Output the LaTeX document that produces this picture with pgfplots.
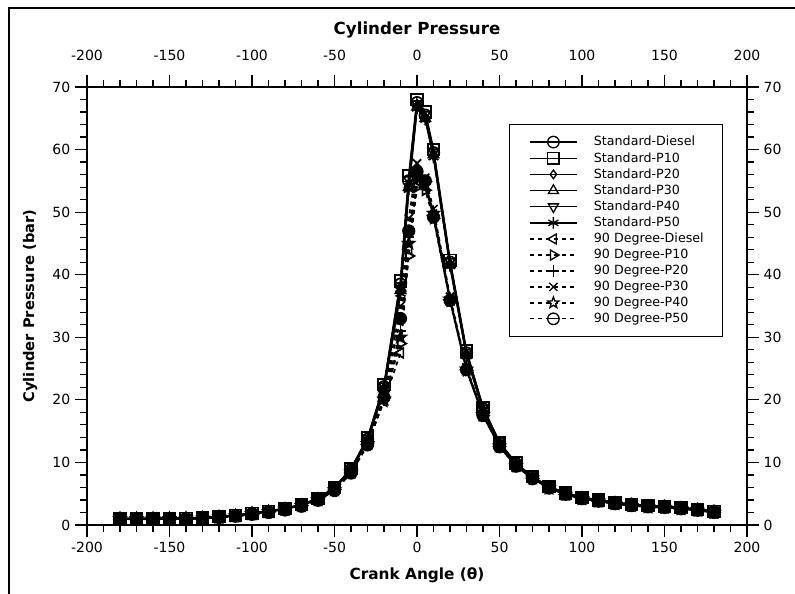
\documentclass[border=0pt]{standalone}
\usepackage{fontspec}
\setmainfont{DejaVu Sans}
\usepackage{pgfplots}
\pgfplotsset{compat=1.18}
\usepackage{pgfplotstable}
\usetikzlibrary{plotmarks}

\pgfdeclareplotmark{ostar}{%
  \pgfpathmoveto{\pgfpointpolar{90}{\pgfplotmarksize}}%
  \pgfpathlineto{\pgfpointpolar{126}{0.42\pgfplotmarksize}}%
  \pgfpathlineto{\pgfpointpolar{162}{\pgfplotmarksize}}%
  \pgfpathlineto{\pgfpointpolar{198}{0.42\pgfplotmarksize}}%
  \pgfpathlineto{\pgfpointpolar{234}{\pgfplotmarksize}}%
  \pgfpathlineto{\pgfpointpolar{270}{0.42\pgfplotmarksize}}%
  \pgfpathlineto{\pgfpointpolar{306}{\pgfplotmarksize}}%
  \pgfpathlineto{\pgfpointpolar{342}{0.42\pgfplotmarksize}}%
  \pgfpathlineto{\pgfpointpolar{18}{\pgfplotmarksize}}%
  \pgfpathlineto{\pgfpointpolar{54}{0.42\pgfplotmarksize}}%
  \pgfpathclose
  \pgfusepathqfillstroke}
\pgfdeclareplotmark{ominus}{%
  \pgfpathcircle{\pgfpointorigin}{\pgfplotmarksize}%
  \pgfusepathqfillstroke
  \pgfpathmoveto{\pgfqpoint{-\pgfplotmarksize}{0pt}}%
  \pgfpathlineto{\pgfqpoint{\pgfplotmarksize}{0pt}}%
  \pgfusepathqstroke}

\pgfplotstableread{
x d p10 p20 p30 p40 p50
-180 1.00 1.00 0.95 1.00 1.05 1.00
-170 1.00 1.00 0.95 1.00 1.05 1.00
-160 1.00 1.05 1.00 1.00 1.05 1.00
-150 1.05 1.05 1.00 1.05 1.05 1.05
-140 1.05 1.10 1.05 1.05 1.10 1.05
-130 1.10 1.15 1.10 1.10 1.15 1.10
-120 1.30 1.35 1.30 1.30 1.35 1.30
-110 1.50 1.55 1.50 1.50 1.55 1.50
-100 1.85 1.90 1.85 1.85 1.90 1.80
-90 2.15 2.20 2.15 2.15 2.20 2.10
-80 2.60 2.65 2.60 2.55 2.65 2.55
-70 3.20 3.25 3.20 3.15 3.25 3.15
-60 4.20 4.25 4.20 4.15 4.25 4.10
-50 5.90 6.00 5.90 5.85 5.95 5.80
-40 8.90 9.00 8.85 8.80 8.95 8.75
-30 13.7 13.9 13.6 13.5 13.8 13.4
-20 22.1 22.4 21.9 21.8 22.2 21.6
-10 38.5 39.0 38.0 37.5 38.2 37.0
-5 55.0 55.8 54.5 54.0 55.2 53.6
0 67.5 68.0 67.0 66.8 67.3 66.6
5 65.5 66.0 65.2 65.0 65.6 64.8
10 59.5 60.0 59.0 59.2 59.6 58.8
20 42.0 42.3 41.8 41.6 42.1 41.4
30 27.5 27.8 27.3 27.2 27.6 27.0
40 18.6 18.8 18.5 18.4 18.7 18.3
50 13.1 13.2 13.0 13.0 13.1 12.9
60 9.8 9.9 9.8 9.7 9.8 9.7
70 7.7 7.7 7.6 7.6 7.7 7.6
80 6.1 6.1 6.0 6.0 6.1 6.0
90 5.1 5.1 5.0 5.0 5.1 5.0
100 4.4 4.4 4.35 4.3 4.4 4.3
110 4.0 4.0 3.95 3.9 4.0 3.9
120 3.6 3.6 3.55 3.5 3.6 3.5
130 3.3 3.3 3.25 3.2 3.3 3.2
140 3.1 3.1 3.05 3.0 3.1 3.0
150 3.0 3.0 2.95 2.9 3.0 2.9
160 2.8 2.8 2.75 2.7 2.8 2.7
170 2.5 2.5 2.45 2.4 2.5 2.4
180 2.2 2.2 2.15 2.1 2.2 2.1
}\stdtab

\pgfplotstableread{
x d p10 p20 p30 p40 p50
-180 0.95 0.95 0.90 0.95 1.00 0.95
-170 0.95 0.95 0.90 0.95 1.00 0.95
-160 0.95 1.00 0.95 0.95 1.00 0.95
-150 1.00 1.00 0.95 1.00 1.00 1.00
-140 1.00 1.05 1.00 1.00 1.05 1.00
-130 1.05 1.10 1.05 1.05 1.10 1.05
-120 1.20 1.25 1.20 1.20 1.25 1.20
-110 1.40 1.45 1.40 1.40 1.45 1.40
-100 1.75 1.80 1.75 1.75 1.80 1.70
-90 2.05 2.10 2.05 2.05 2.10 2.00
-80 2.45 2.50 2.45 2.40 2.50 2.40
-70 3.05 3.10 3.05 3.00 3.10 3.00
-60 4.00 4.05 4.00 3.95 4.05 3.95
-50 5.60 5.65 5.55 5.50 5.60 5.50
-40 8.40 8.50 8.35 8.30 8.45 8.30
-30 12.9 13.1 12.9 12.8 13.0 12.8
-20 19.8 20.3 20.0 20.6 20.1 20.4
-10 27.5 29.0 31.0 35.0 30.0 33.0
-5 44.0 43.0 46.0 49.0 45.0 47.0
0 55.0 54.0 56.0 57.8 55.5 56.5
5 54.0 53.5 54.5 55.5 54.5 55.0
10 49.5 49.0 50.0 50.5 49.8 49.2
20 36.0 35.8 36.2 36.5 36.1 35.9
30 24.8 24.7 25.0 25.2 24.9 24.8
40 17.6 17.5 17.7 17.8 17.6 17.5
50 12.6 12.5 12.7 12.8 12.6 12.5
60 9.5 9.4 9.5 9.6 9.5 9.4
70 7.5 7.4 7.5 7.5 7.5 7.4
80 5.9 5.9 5.9 6.0 5.9 5.9
90 4.9 4.9 4.9 5.0 4.9 4.9
100 4.2 4.2 4.2 4.3 4.2 4.2
110 3.8 3.8 3.8 3.9 3.8 3.8
120 3.4 3.4 3.4 3.5 3.4 3.4
130 3.1 3.1 3.1 3.2 3.1 3.1
140 2.9 2.9 2.9 3.0 2.9 2.9
150 2.8 2.8 2.8 2.9 2.8 2.8
160 2.6 2.6 2.6 2.7 2.6 2.6
170 2.35 2.35 2.35 2.4 2.35 2.35
180 2.0 2.0 2.0 2.1 2.0 2.0
}\ninetab

\pgfplotsset{
  common/.style={
    scale only axis, width=495pt, height=328.5pt,
    xmin=-200, xmax=200, ymin=0, ymax=70,
    xtick={-200,-150,...,200}, ytick={0,10,...,70},
    minor x tick num=4, minor y tick num=4,
    tick align=outside, major tick length=9pt, minor tick length=5pt,
    xtick pos=both, ytick pos=both,
    axis line style={line width=1pt},
    every tick/.style={black, line width=0.9pt},
    tick label style={font=\fontsize{10.5}{12}\selectfont},
    /pgf/number format/assume math mode=true,
  },
}

\begin{document}
\begin{tikzpicture}
\begin{axis}[common,
  xticklabel pos=lower, yticklabel pos=left,
  xlabel={\bfseries Crank Angle (θ)},
  ylabel={\bfseries Cylinder Pressure (bar)},
  xlabel style={at={(rel axis cs:0.5,-0.114)}, anchor=center, font=\fontsize{11.5}{13}\selectfont},
  ylabel style={at={(rel axis cs:-0.086,0.5)}, anchor=center, rotate=0, font=\fontsize{11}{13}\selectfont},
  every axis title shift=0pt,
  title={\bfseries Cylinder Pressure},
  title style={at={(rel axis cs:0.5,1.130)}, anchor=center, font=\fontsize{12.5}{14}\selectfont},
  every axis plot/.append style={line width=1.3pt, black},
  mark options={solid, fill=none},
  legend style={at={(rel axis cs:0.639,0.9155)}, anchor=north west,
    draw=black, font=\fontsize{9.5}{11}\selectfont, row sep=-0.6pt,
    inner xsep=12pt, inner ysep=7pt},
  legend cell align=left,
  legend image code/.code={\path (-0.1cm,0) (1.6cm,0); \draw[line width=1pt, mark repeat=2, mark phase=2, every mark/.append style={fill=white}] plot coordinates {(0cm,0cm) (0.625cm,0cm) (1.25cm,0cm)};},
]
\addplot[mark=o, mark size=4.3pt] table[x=x,y=d] {\stdtab};
\addlegendentry{Standard-Diesel}
\addplot[mark=square, mark size=4.3pt] table[x=x,y=p10] {\stdtab};
\addlegendentry{Standard-P10}
\addplot[mark=diamond, mark size=3.2pt] table[x=x,y=p20] {\stdtab};
\addlegendentry{Standard-P20}
\addplot[mark=triangle, mark size=4.3pt] table[x=x,y=p30] {\stdtab};
\addlegendentry{Standard-P30}
\addplot[mark=triangle, mark size=4.3pt, mark options={rotate=180, solid}] table[x=x,y=p40] {\stdtab};
\addlegendentry{Standard-P40}
\addplot[mark=asterisk, mark size=4.3pt] table[x=x,y=p50] {\stdtab};
\addlegendentry{Standard-P50}
\addplot[dash pattern=on 3pt off 3pt, mark=triangle, mark size=4.3pt, mark options={rotate=90, solid}] table[x=x,y=d] {\ninetab};
\addlegendentry{90 Degree-Diesel}
\addplot[dash pattern=on 3pt off 3pt, mark=triangle, mark size=4.3pt, mark options={rotate=-90, solid}] table[x=x,y=p10] {\ninetab};
\addlegendentry{90 Degree-P10}
\addplot[dash pattern=on 3pt off 3pt, mark=+, mark size=4.3pt] table[x=x,y=p20] {\ninetab};
\addlegendentry{90 Degree-P20}
\addplot[dash pattern=on 3pt off 3pt, mark=x, mark size=4.3pt] table[x=x,y=p30] {\ninetab};
\addlegendentry{90 Degree-P30}
\addplot[dash pattern=on 3pt off 3pt, mark=ostar, mark size=4.3pt] table[x=x,y=p40] {\ninetab};
\addlegendentry{90 Degree-P40}
\addplot[dash pattern=on 3pt off 3pt, mark=ominus, mark size=4.3pt] table[x=x,y=p50] {\ninetab};
\addlegendentry{90 Degree-P50}
\coordinate (BL) at (rel axis cs:-0.1318,-0.1575);
\coordinate (TR) at (rel axis cs:1.0727,1.1986);
\coordinate (FR) at (rel axis cs:-0.118,1.1804);
\end{axis}
\begin{axis}[common, xticklabel pos=upper, yticklabel pos=right,
  xticklabel style={yshift=7pt}]
\end{axis}
\pgfresetboundingbox
\path[use as bounding box] (BL) rectangle (TR);
\draw[line width=2pt] (BL -| FR) -- (FR) -- ([xshift=20pt]TR |- FR);
\end{tikzpicture}
\end{document}
